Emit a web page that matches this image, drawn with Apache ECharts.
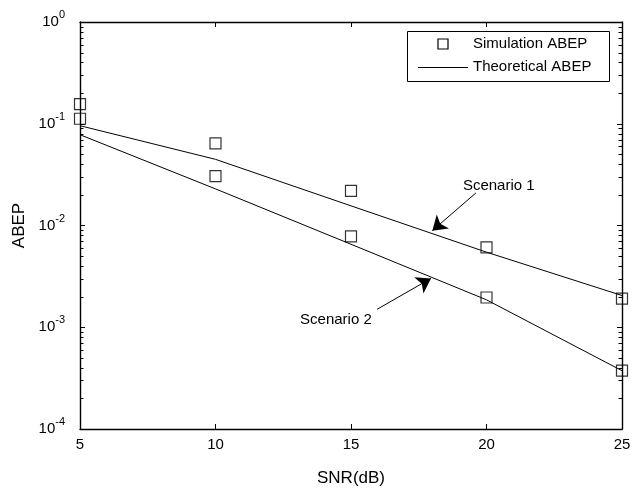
<!DOCTYPE html>
<html>
<head>
<meta charset="utf-8">
<script src="https://cdn.jsdelivr.net/npm/echarts@6/dist/echarts.min.js"></script>
<style>
html,body{margin:0;padding:0;background:#fff;}
#chart{width:644px;height:492px;}
</style>
</head>
<body>
<div id="chart"></div>
<script>
// ---- data ----
const snr = [5, 10, 15, 20, 25];
const simScenario1 = [0.156, 0.064, 0.0219, 0.0061, 0.00191];
const simScenario2 = [0.112, 0.0306, 0.00782, 0.00196, 0.000374];
const theoryScenario1 = [0.0957, 0.0447, 0.0156, 0.00547, 0.00205];
const theoryScenario2 = [0.078, 0.0229, 0.00654, 0.00186, 0.000374];
const xTicks = [5, 10, 15, 20, 25];
const yDecades = [-4, -3, -2, -1, 0];
const legendNames = ['Simulation ABEP', 'Theoretical ABEP'];
const xName = 'SNR(dB)';
const yName = 'ABEP';
// annotation texts anchored in data units [snr, ABEP]
const noteTexts = ['Scenario 1', 'Scenario 2'];
const noteAnchors = [[19.13, 0.0244], [13.12, 0.00117]];
// arrows: [tail, head] in data units
const arrowTails = [[19.61, 0.0209], [15.96, 0.0015]];
const arrowHeads = [[18.0, 0.0089], [17.95, 0.00302]];

// minor tick values on the log axis (2..9 x 10^k)
const minorVals = [];
for (let k = yDecades[0]; k < yDecades[yDecades.length - 1]; k++) {
  for (let m = 2; m <= 9; m++) minorVals.push(m * Math.pow(10, k));
}

const FONT = 'Liberation Sans, Arial, Helvetica, sans-serif';
const xmin = xTicks[0], xmax = xTicks[xTicks.length - 1];
const ymin = Math.pow(10, yDecades[0]), ymax = Math.pow(10, yDecades[yDecades.length - 1]);

const chart = echarts.init(document.getElementById('chart'), null, {renderer: 'canvas'});

function pairs(xs, ys) { return xs.map((x, i) => [x, ys[i]]); }

const rectStyle = {color: 'rgba(0,0,0,0)', borderColor: '#000', borderWidth: 1.2};

const option = {
  animation: false,
  backgroundColor: '#fff',
  textStyle: {fontFamily: FONT},
  grid: {left: 80, top: 22, right: 22, bottom: 58, containLabel: false},
  xAxis: [{
    type: 'value', min: xmin, max: xmax, interval: 5, position: 'bottom',
    name: xName, nameLocation: 'middle', nameGap: 41,
    nameTextStyle: {fontFamily: FONT, fontSize: 17, color: '#000'},
    axisLine: {onZero: false, lineStyle: {color: '#000', width: 1.4}},
    axisTick: {inside: true, length: 5, lineStyle: {color: '#000', width: 1}},
    axisLabel: {fontFamily: FONT, fontSize: 15, color: '#000', margin: 8},
    splitLine: {show: false}
  }, {
    type: 'value', min: xmin, max: xmax, interval: 5, position: 'top',
    axisLine: {onZero: false, lineStyle: {color: '#000', width: 1.4}},
    axisTick: {inside: true, length: 5, lineStyle: {color: '#000', width: 1}},
    axisLabel: {show: false}, splitLine: {show: false}
  }],
  yAxis: [{
    type: 'log', logBase: 10, min: ymin, max: ymax, position: 'left',
    name: yName, nameLocation: 'middle', nameGap: 48, nameRotate: 90,
    nameTextStyle: {fontFamily: FONT, fontSize: 17, color: '#000'},
    axisLine: {onZero: false, lineStyle: {color: '#000', width: 1.4}},
    axisTick: {inside: true, length: 5, lineStyle: {color: '#000', width: 1}},
    axisLabel: {
      margin: 15, color: '#000',
      formatter: function (v) {
        const e = Math.round(Math.log10(v));
        return '{b|10}{s|' + e + '}';
      },
      rich: {
        b: {fontFamily: FONT, fontSize: 15, lineHeight: 30, color: '#000'},
        s: {fontFamily: FONT, fontSize: 11, lineHeight: 16, padding: [0, 0, 14, 0], color: '#000'}
      }
    },
    splitLine: {show: false}
  }, {
    type: 'log', logBase: 10, min: ymin, max: ymax, position: 'right',
    axisLine: {onZero: false, lineStyle: {color: '#000', width: 1.4}},
    axisTick: {inside: true, length: 5, lineStyle: {color: '#000', width: 1}},
    axisLabel: {show: false}, splitLine: {show: false}
  }],
  series: [
    {
      name: 'Theoretical 1', type: 'line', data: pairs(snr, theoryScenario1),
      showSymbol: false, symbol: 'none', lineStyle: {color: '#000', width: 1}, z: 3,
      markLine: {
        silent: true, animation: false,
        lineStyle: {color: '#000', width: 1, type: 'solid'},
        label: {show: false},
        symbol: ['none', 'arrow'], symbolSize: [0, 14],
        data: arrowTails.map((t, i) => [
          {coord: t, symbol: 'none'},
          {coord: arrowHeads[i], symbol: 'arrow', symbolSize: 14}
        ])
      },
      markPoint: {
        silent: true, animation: false,
        symbol: 'circle', symbolSize: 0,
        label: {show: true, position: 'right', distance: 0, fontFamily: FONT, fontSize: 15, color: '#000',
          formatter: p => p.name},
        data: noteTexts.map((t, i) => ({name: t, coord: noteAnchors[i]}))
      }
    },
    {
      name: 'Theoretical 2', type: 'line', data: pairs(snr, theoryScenario2),
      showSymbol: false, symbol: 'none', lineStyle: {color: '#000', width: 1}, z: 3
    },
    {
      name: 'Simulation 1', type: 'scatter', data: pairs(snr, simScenario1),
      symbol: 'rect', symbolSize: 11, itemStyle: rectStyle, z: 4
    },
    {
      name: 'Simulation 2', type: 'scatter', data: pairs(snr, simScenario2),
      symbol: 'rect', symbolSize: 11, itemStyle: rectStyle, z: 4
    },
    {
      name: 'minorTicks', type: 'custom', data: minorVals.map(v => [v]),
      silent: true, clip: false, z: 5,
      renderItem: function (params, api) {
        const v = api.value(0);
        const pl = api.coord([xmin, v]);
        const pr = api.coord([xmax, v]);
        const y = Math.round(pl[1]) + 0.5;
        return {
          type: 'group',
          children: [
            {type: 'line', shape: {x1: pl[0], y1: y, x2: pl[0] + 3.5, y2: y}, style: {stroke: '#000', lineWidth: 1}},
            {type: 'line', shape: {x1: pr[0], y1: y, x2: pr[0] - 3.5, y2: y}, style: {stroke: '#000', lineWidth: 1}}
          ]
        };
      },
      encode: {y: 0}
    }
  ],
  graphic: [
    {type: 'rect', z: 10, shape: {x: 407.5, y: 31.5, width: 202, height: 50},
      style: {fill: '#fff', stroke: '#000', lineWidth: 1}},
    {type: 'rect', z: 11, shape: {x: 438, y: 39, width: 10, height: 10},
      style: {fill: 'none', stroke: '#000', lineWidth: 1.2}},
    {type: 'line', z: 11, shape: {x1: 418, y1: 67.5, x2: 468, y2: 67.5},
      style: {stroke: '#000', lineWidth: 1}},
    {type: 'text', z: 11, x: 473, y: 44,
      style: {text: legendNames[0], font: '15px ' + FONT, fill: '#000', verticalAlign: 'middle', textVerticalAlign: 'middle'}},
    {type: 'text', z: 11, x: 473, y: 67,
      style: {text: legendNames[1], font: '15px ' + FONT, fill: '#000', verticalAlign: 'middle', textVerticalAlign: 'middle'}}
  ]
};
chart.setOption(option);
</script>
</body>
</html>
